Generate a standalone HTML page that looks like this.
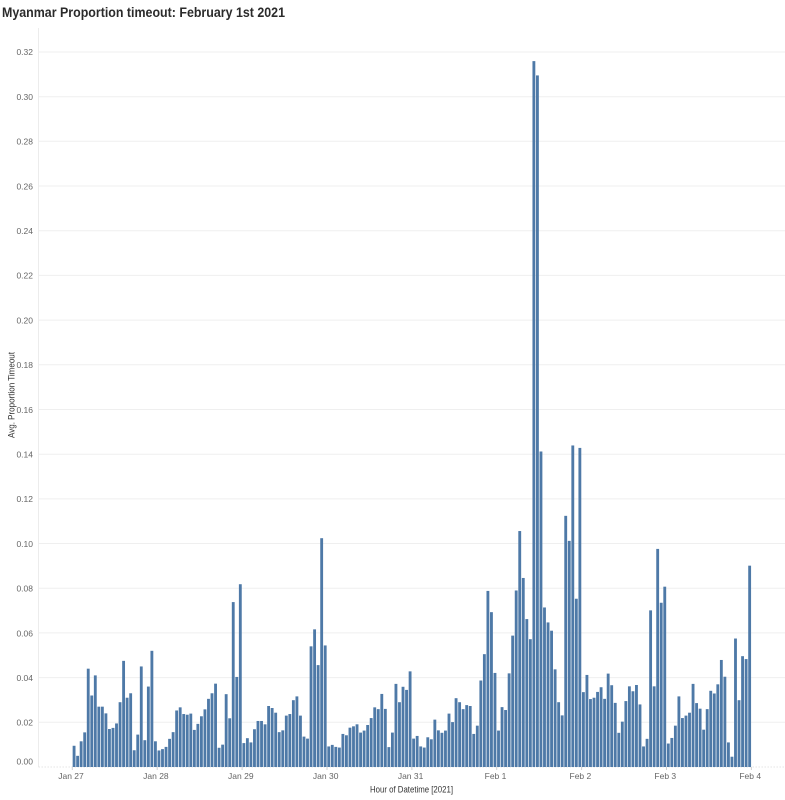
<!DOCTYPE html>
<html>
<head>
<meta charset="utf-8">
<style>
  html, body { margin:0; padding:0; background:#fff; }
  svg { display:block; }
  text { font-family: "Liberation Sans", "DejaVu Sans", sans-serif; }
</style>
</head>
<body>
<svg id="chart" width="785" height="800" viewBox="0 0 785 800" xmlns="http://www.w3.org/2000/svg">
  <rect x="0" y="0" width="785" height="800" fill="#fff"/>
  <text x="2" y="17" font-size="13.5" font-weight="bold" fill="#2b2b2b" textLength="283" lengthAdjust="spacingAndGlyphs">Myanmar Proportion timeout: February 1st 2021</text>

  <g id="grid" stroke="#efefef" stroke-width="1"></g>
  <line x1="38.5" y1="28" x2="38.5" y2="767" stroke="#ececec" stroke-width="1"/>
  <line x1="38.5" y1="767" x2="785" y2="767" stroke="#e4e4e4" stroke-width="1" stroke-dasharray="1.5,1.5"/>

  <g id="ylabels" font-size="8.5" fill="#666" text-anchor="end">
    <text x="33" y="764.5">0.00</text>
    <text x="33" y="725.7">0.02</text>
    <text x="33" y="681.0">0.04</text>
    <text x="33" y="636.3">0.06</text>
    <text x="33" y="591.6">0.08</text>
    <text x="33" y="546.9">0.10</text>
    <text x="33" y="502.2">0.12</text>
    <text x="33" y="457.5">0.14</text>
    <text x="33" y="412.8">0.16</text>
    <text x="33" y="368.1">0.18</text>
    <text x="33" y="323.4">0.20</text>
    <text x="33" y="278.7">0.22</text>
    <text x="33" y="234.0">0.24</text>
    <text x="33" y="189.3">0.26</text>
    <text x="33" y="144.6">0.28</text>
    <text x="33" y="99.9">0.30</text>
    <text x="33" y="55.2">0.32</text>
  </g>

  <g id="bars" fill="#4e79a7"></g>

  <g id="xticks" stroke="#d0d0d0" stroke-width="1"></g>
  <g font-size="8.5" fill="#666" text-anchor="middle">
    <text x="71" y="779">Jan 27</text>
    <text x="155.9" y="779">Jan 28</text>
    <text x="240.8" y="779">Jan 29</text>
    <text x="325.7" y="779">Jan 30</text>
    <text x="410.6" y="779">Jan 31</text>
    <text x="495.5" y="779">Feb 1</text>
    <text x="580.4" y="779">Feb 2</text>
    <text x="665.3" y="779">Feb 3</text>
    <text x="750.2" y="779">Feb 4</text>
  </g>
  <text x="411.5" y="792.5" font-size="9" fill="#333" text-anchor="middle" textLength="83" lengthAdjust="spacingAndGlyphs">Hour of Datetime [2021]</text>
  <text transform="translate(14.5,395) rotate(-90)" font-size="9" fill="#333" text-anchor="middle" textLength="86" lengthAdjust="spacingAndGlyphs">Avg. Proportion Timeout</text>
</svg>
<script>
(function(){
  var NS="http://www.w3.org/2000/svg";
  var base=767, scale=2234.5;
  var grid=document.getElementById("grid");
  for(var k=1;k<=16;k++){
    var y=(base-k*44.69);
    var l=document.createElementNS(NS,"line");
    l.setAttribute("x1","38.5");l.setAttribute("x2","785");
    l.setAttribute("y1",y.toFixed(1));l.setAttribute("y2",y.toFixed(1));
    grid.appendChild(l);
  }
  var data=[
  0.0095,0.005,0.0115,0.0155,0.044,0.032,0.041,0.027,0.027,0.024,0.017,0.0175,0.0195,0.029,0.0475,0.031,0.033,0.0075,0.0145,0.045,0.012,0.036,0.052,0.0115,
  0.0074,0.008,0.009,0.0126,0.0156,0.0253,0.0267,0.0237,0.0234,0.0239,0.0166,0.0193,0.0227,0.0258,0.0305,0.033,0.0373,0.0086,0.010,0.0326,0.0218,0.0738,0.0403,0.0818,
  0.0107,0.0129,0.011,0.0169,0.0206,0.0206,0.0191,0.0273,0.0264,0.0243,0.0156,0.0164,0.023,0.0237,0.0299,0.0316,0.023,0.0136,0.0127,0.054,0.0616,0.0456,0.1024,0.0544,
  0.0092,0.0099,0.009,0.0087,0.0148,0.0142,0.0176,0.0182,0.0191,0.0154,0.0163,0.0188,0.0219,0.0267,0.0259,0.0327,0.026,0.0089,0.0154,0.0372,0.029,0.0359,0.0345,0.0428,
  0.0127,0.0139,0.0092,0.0087,0.0133,0.0124,0.0212,0.0164,0.0153,0.0163,0.0239,0.0201,0.0308,0.029,0.0259,0.0277,0.0273,0.0148,0.0185,0.0387,0.0505,0.0788,0.0693,0.0421,
  0.0163,0.0268,0.0255,0.0419,0.0588,0.079,0.1056,0.0846,0.0662,0.0572,0.3159,0.3095,0.1412,0.0714,0.0647,0.061,0.0437,0.029,0.0231,0.1124,0.1012,0.1439,0.0753,0.1428,
  0.0335,0.0412,0.0304,0.031,0.0336,0.0357,0.0305,0.0418,0.0366,0.0287,0.0153,0.0203,0.0295,0.0361,0.0339,0.0367,0.028,0.0092,0.0126,0.0701,0.0361,0.0976,0.0735,0.0807,
  0.0105,0.013,0.0185,0.0316,0.0219,0.023,0.0243,0.0372,0.0286,0.0261,0.0167,0.0259,0.0341,0.0329,0.037,0.0479,0.0404,0.011,0.0046,0.0575,0.0299,0.0496,0.0483,0.0901
  ];
  var bars=document.getElementById("bars");
  var x0=72.3, w=3.537;
  for(var i=0;i<data.length;i++){
    var h=data[i]*scale;
    var r=document.createElementNS(NS,"rect");
    r.setAttribute("x",(x0+i*w+0.35).toFixed(2));
    r.setAttribute("width","2.85");
    r.setAttribute("y",(base-h).toFixed(2));
    r.setAttribute("height",h.toFixed(2));
    bars.appendChild(r);
  }
  var xt=document.getElementById("xticks");
  for(var d=0;d<=8;d++){
    var xx=x0+d*24*w;
    var t=document.createElementNS(NS,"line");
    t.setAttribute("x1",xx.toFixed(1));t.setAttribute("x2",xx.toFixed(1));
    t.setAttribute("y1","767");t.setAttribute("y2","770");
    xt.appendChild(t);
  }
})();
</script>
</body>
</html>
